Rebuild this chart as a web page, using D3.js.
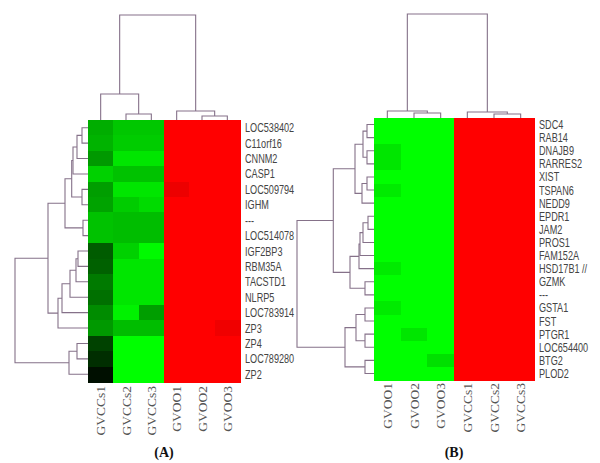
<!DOCTYPE html>
<html>
<head>
<meta charset="utf-8">
<script src="https://cdn.jsdelivr.net/npm/d3@7"></script>
<style>
  body { margin: 0; background: #fff; }
  svg { display: block; }
</style>
</head>
<body>
<div id="chart"></div>
<script>
// ---- panel A data ----
const colsA = ["GVCCs1", "GVCCs2", "GVCCs3", "GVOO1", "GVOO2", "GVOO3"];
const rowsA = ["LOC538402", "C11orf16", "CNNM2", "CASP1", "LOC509794", "IGHM", "---",
    "LOC514078", "IGF2BP3", "RBM35A", "TACSTD1", "NLRP5", "LOC783914", "ZP3", "ZP4",
    "LOC789280", "ZP2"];
const valuesA = [
    [-0.68, -0.78, -0.78, 1, 1, 1],
    [-0.70, -0.80, -0.80, 1, 1, 1],
    [-0.60, -0.90, -0.90, 1, 1, 1],
    [-0.82, -0.76, -0.76, 1, 1, 1],
    [-0.62, -0.90, -0.90, 0.93, 1, 1],
    [-0.64, -0.80, -0.86, 1, 1, 1],
    [-0.76, -0.74, -0.74, 1, 1, 1],
    [-0.76, -0.74, -0.74, 1, 1, 1],
    [-0.36, -0.82, -0.98, 1, 1, 1],
    [-0.38, -0.90, -0.90, 1, 1, 1],
    [-0.48, -0.90, -0.90, 1, 1, 1],
    [-0.44, -0.90, -0.90, 1, 1, 1],
    [-0.55, -0.95, -0.62, 1, 1, 1],
    [-0.60, -0.74, -0.74, 1, 1, 0.94],
    [-0.26, -1, -1, 1, 1, 1],
    [-0.18, -1, -1, 1, 1, 1],
    [-0.06, -1, -1, 1, 1, 1]
];
// merges: negative = leaf (-1 is first), positive = earlier merge (1-based), then height
const colMergesA = [[-2, -3, 6], [-1, 1, 26], [-5, -6, 4], [-4, 3, 9], [2, 4, 105]];
const rowMergesA = [
    [-1, -2, 6], [1, -3, 11], [2, -4, 15], [-5, -6, 6], [3, 4, 16.3], [-7, -8, 5],
    [5, 6, 23], [-9, -10, 10], [8, -11, 12], [9, -12, 18], [10, -13, 26], [11, -14, 30],
    [7, 12, 40], [-15, -16, 11], [14, -17, 19], [13, 15, 73]
];

// ---- panel B data ----
const colsB = ["GVOO1", "GVOO2", "GVOO3", "GVCCs1", "GVCCs2", "GVCCs3"];
const rowsB = ["SDC4", "RAB14", "DNAJB9", "RARRES2", "XIST", "TSPAN6", "NEDD9", "EPDR1",
    "JAM2", "PROS1", "FAM152A", "HSD17B1 //", "GZMK", "---", "GSTA1", "FST", "PTGR1",
    "LOC654400", "BTG2", "PLOD2"];
const valuesB = [
    [-1, -1, -1, 1, 1, 1],
    [-1, -1, -1, 1, 1, 1],
    [-0.9, -1, -1, 1, 1, 1],
    [-0.9, -1, -1, 1, 1, 1],
    [-1, -1, -1, 1, 1, 1],
    [-0.92, -1, -1, 1, 1, 1],
    [-1, -1, -1, 1, 1, 1],
    [-1, -1, -1, 1, 1, 1],
    [-1, -1, -1, 1, 1, 1],
    [-1, -1, -1, 1, 1, 1],
    [-1, -1, -1, 1, 1, 1],
    [-0.92, -1, -1, 1, 1, 1],
    [-1, -1, -1, 1, 1, 1],
    [-1, -1, -1, 1, 1, 1],
    [-0.92, -1, -1, 1, 1, 1],
    [-1, -1, -1, 1, 1, 1],
    [-1, -0.9, -1, 1, 1, 1],
    [-1, -1, -1, 1, 1, 1],
    [-1, -1, -0.88, 1, 1, 1],
    [-1, -1, -1, 1, 1, 1]
];
const colMergesB = [[-2, -3, 5], [-1, 1, 7], [-5, -6, 4], [-4, 3, 6], [2, 4, 104]];
const rowMergesB = [
    [-1, -2, 7], [-3, -4, 7], [1, 2, 11], [-5, -6, 7], [4, -7, 12], [3, 5, 19],
    [-8, -9, 6], [7, -10, 11], [8, -11, 14], [9, -12, 15], [-13, -14, 9], [10, 11, 24],
    [6, 12, 40.7], [-15, -16, 9], [-17, -18, 9], [14, 15, 18], [-19, -20, 9],
    [16, 17, 29], [13, 18, 77]
];

const width = 600, height = 463;

const color = d3.scaleLinear()
    .domain([-1, 0, 1])
    .range(["#00ff00", "#000000", "#ff0000"]);

const svg = d3.select("#chart")
    .append("svg")
    .attr("width", width)
    .attr("height", height)
    .style("background-color", "white");

function drawDendro(g, merges, leafPos, hScale, orient) {
    const pos = [], ht = [];
    const get = (k) => k < 0 ? { p: leafPos(-k - 1), h: 0 } : { p: pos[k - 1], h: ht[k - 1] };
    merges.forEach(([a, b, h], i) => {
        const A = get(a), B = get(b);
        pos[i] = (A.p + B.p) / 2;
        ht[i] = h;
        let d;
        if (orient === "top") {
            d = `M${A.p},${hScale(A.h)}V${hScale(h)}H${B.p}V${hScale(B.h)}`;
        } else {
            d = `M${hScale(A.h)},${A.p}H${hScale(h)}V${B.p}H${hScale(B.h)}`;
        }
        g.append("path")
            .attr("d", d)
            .attr("fill", "none")
            .attr("stroke", "#857189")
            .attr("stroke-width", 1.1);
    });
}

function drawPanel(cfg) {
    const { cols, rows, values, colMerges, rowMerges, x0, x1, y0, y1, colTop, rowLeft,
        labelX, colLabelY, title } = cfg;

    const x = d3.scaleBand().domain(d3.range(cols.length)).range([x0, x1]);
    const y = d3.scaleBand().domain(d3.range(rows.length)).range([y0, y1]);

    const g = svg.append("g");

    // cells
    values.forEach((row, ri) => {
        g.selectAll(null)
            .data(row)
            .enter()
            .append("rect")
            .attr("x", (d, ci) => x(ci))
            .attr("y", y(ri))
            .attr("width", x.bandwidth() + 0.6)
            .attr("height", y.bandwidth() + 0.6)
            .attr("shape-rendering", "crispEdges")
            .attr("fill", d => color(d));
    });

    // dendrograms
    const colH = d3.scaleLinear()
        .domain([0, d3.max(colMerges, d => d[2])])
        .range([y0, colTop]);
    drawDendro(g, colMerges, i => x(i) + x.bandwidth() / 2, colH, "top");

    const rowH = d3.scaleLinear()
        .domain([0, d3.max(rowMerges, d => d[2])])
        .range([x0, rowLeft]);
    drawDendro(g, rowMerges, i => y(i) + y.bandwidth() / 2, rowH, "left");

    // row labels
    g.selectAll(".row-label")
        .data(rows)
        .enter()
        .append("text")
        .attr("class", "row-label")
        .attr("transform", (d, i) => `translate(${labelX},${y(i) + y.bandwidth() / 2}) scale(0.73,1)`)
        .attr("dy", "0.36em")
        .attr("font-family", "'Liberation Sans', Arial, sans-serif")
        .attr("font-size", 12.5)
        .attr("fill", "#444")
        .text(d => d);

    // column labels
    g.selectAll(".col-label")
        .data(cols)
        .enter()
        .append("text")
        .attr("class", "col-label")
        .attr("transform", (d, i) => `translate(${x(i) + x.bandwidth() / 2},${colLabelY}) rotate(-90)`)
        .attr("dy", "0.35em")
        .attr("text-anchor", "end")
        .attr("font-family", "'Liberation Serif', 'Times New Roman', serif")
        .attr("font-size", 13.5)
        .attr("fill", "#555")
        .text(d => d);

    // panel title
    g.append("text")
        .attr("x", (x0 + x1) / 2)
        .attr("y", 457)
        .attr("text-anchor", "middle")
        .attr("font-family", "'Liberation Serif', 'Times New Roman', serif")
        .attr("font-weight", "bold")
        .attr("font-size", 14)
        .attr("fill", "#111")
        .text(title);
}

drawPanel({
    cols: colsA, rows: rowsA, values: valuesA, colMerges: colMergesA, rowMerges: rowMergesA,
    x0: 88, x1: 240, y0: 120, y1: 382, colTop: 15, rowLeft: 15,
    labelX: 245, colLabelY: 386, title: "(A)"
});

drawPanel({
    cols: colsB, rows: rowsB, values: valuesB, colMerges: colMergesB, rowMerges: rowMergesB,
    x0: 374, x1: 534, y0: 118, y1: 380, colTop: 14, rowLeft: 297,
    labelX: 539, colLabelY: 383, title: "(B)"
});
</script>
</body>
</html>
